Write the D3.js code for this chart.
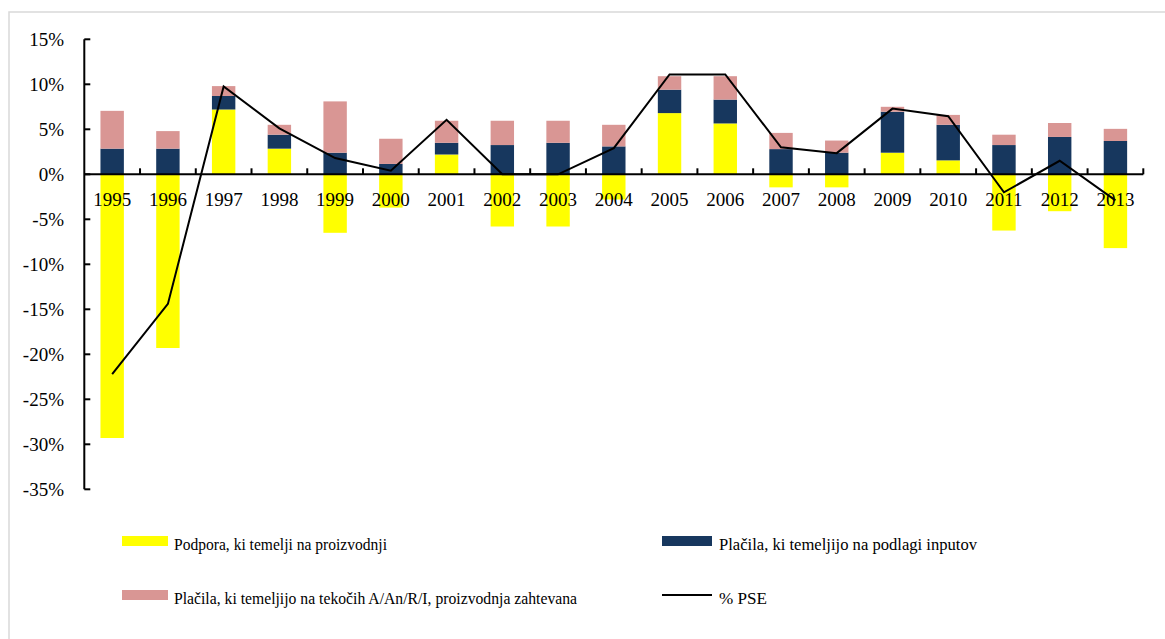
<!DOCTYPE html>
<html>
<head>
<meta charset="utf-8">
<script src="https://cdn.jsdelivr.net/npm/d3@7"></script>
<style>
  body { margin: 0; background: #fff; }
  svg { display: block; font-family: "Liberation Serif", "Times New Roman", serif; }
</style>
</head>
<body>
<svg id="chart" width="1165" height="639"></svg>
<script>
// chart data (in %)
var years = ["1995","1996","1997","1998","1999","2000","2001","2002","2003","2004",
             "2005","2006","2007","2008","2009","2010","2011","2012","2013"];
var production = [-29.3, -19.3, 7.2, 2.85, -6.5, -3.7, 2.2, -5.8, -5.8, -2.8,
                  6.8, 5.65, -1.45, -1.45, 2.4, 1.55, -6.25, -4.1, -8.2];
var inputs = [2.85, 2.85, 1.5, 1.55, 2.4, 1.15, 1.3, 3.25, 3.5, 3.1,
              2.6, 2.65, 2.8, 2.4, 4.55, 3.95, 3.25, 4.15, 3.7];
var current = [4.2, 1.95, 1.1, 1.1, 5.7, 2.8, 2.45, 2.7, 2.45, 2.4,
               1.5, 2.6, 1.8, 1.35, 0.55, 1.1, 1.15, 1.55, 1.35];
var pse = [-22.2, -14.4, 9.75, 5.1, 1.8, 0.4, 6.05, 0.0, 0.0, 2.9,
           11.1, 11.1, 3.0, 2.35, 7.3, 6.45, -2.0, 1.5, -2.9];
var yTicks = [15, 10, 5, 0, -5, -10, -15, -20, -25, -30, -35];

var seriesNames = {
  production: "Podpora, ki temelji na proizvodnji",
  inputs: "Plačila, ki temeljijo na podlagi inputov",
  current: "Plačila, ki temeljijo na tekočih A/An/R/I, proizvodnja zahtevana",
  pse: "% PSE"
};
var colors = { production: "#ffff00", inputs: "#17375e", current: "#d99694" };

var svg = d3.select("#chart");

// outer frame
svg.append("rect")
    .attr("x", 9).attr("y", 12)
    .attr("width", 1180).attr("height", 660)
    .attr("fill", "none")
    .attr("stroke", "#d9d9d9")
    .attr("stroke-width", 1.5);

var left = 84.3, right = 1143.3;

var x = d3.scaleBand()
    .domain(years)
    .range([left, right])
    .paddingInner(0.58)
    .paddingOuter(0.29);

var xb = d3.scaleBand().domain(years).range([left, right]);

var y = d3.scaleLinear()
    .domain([-35, 15])
    .range([489.3, 39.3]);

// stacked bars
var rows = years.map(function (yr, i) {
  return { year: yr, production: production[i], inputs: inputs[i], current: current[i] };
});
var stack = d3.stack()
    .keys(["production", "inputs", "current"])
    .offset(d3.stackOffsetDiverging);
var layers = stack(rows);

svg.append("g").selectAll("g")
  .data(layers)
  .join("g")
    .attr("fill", function (d) { return colors[d.key]; })
  .selectAll("rect")
  .data(function (d) { return d; })
  .join("rect")
    .attr("x", function (d) { return x(d.data.year); })
    .attr("width", x.bandwidth())
    .attr("y", function (d) { return y(Math.max(d[0], d[1])); })
    .attr("height", function (d) { return Math.abs(y(d[0]) - y(d[1])); });

// y axis
var yAxis = svg.append("g");
yAxis.append("line")
    .attr("x1", left).attr("x2", left)
    .attr("y1", y(15)).attr("y2", y(-35))
    .attr("stroke", "#000").attr("stroke-width", 2);
yAxis.selectAll("line.tick")
  .data(yTicks)
  .join("line")
    .attr("class", "tick")
    .attr("x1", left).attr("x2", left + 6)
    .attr("y1", function (d) { return y(d); })
    .attr("y2", function (d) { return y(d); })
    .attr("stroke", "#000").attr("stroke-width", 2);
yAxis.selectAll("text")
  .data(yTicks)
  .join("text")
    .attr("x", 64)
    .attr("y", function (d) { return y(d) + 6.5; })
    .attr("text-anchor", "end")
    .attr("font-size", 19)
    .text(function (d) { return d + "%"; });

// x axis at zero
var xAxis = svg.append("g");
xAxis.append("line")
    .attr("x1", left).attr("x2", right)
    .attr("y1", y(0)).attr("y2", y(0))
    .attr("stroke", "#000").attr("stroke-width", 2);
xAxis.selectAll("line.tick")
  .data(years.slice(1).concat(["end"]))
  .join("line")
    .attr("class", "tick")
    .attr("x1", function (d) { return d === "end" ? right : xb(d); })
    .attr("x2", function (d) { return d === "end" ? right : xb(d); })
    .attr("y1", y(0)).attr("y2", y(0) - 6)
    .attr("stroke", "#000").attr("stroke-width", 2);
xAxis.selectAll("text")
  .data(years)
  .join("text")
    .attr("x", function (d) { return xb(d) + xb.bandwidth() / 2; })
    .attr("y", y(0) + 32)
    .attr("text-anchor", "middle")
    .attr("font-size", 19)
    .text(function (d) { return d; });

// % PSE line
var line = d3.line()
    .x(function (d, i) { return xb(years[i]) + xb.bandwidth() / 2; })
    .y(function (d) { return y(d); });

svg.append("path")
    .attr("d", line(pse))
    .attr("fill", "none")
    .attr("stroke", "#000")
    .attr("stroke-width", 2);

// legend
var legend = [
  { key: "production", x: 122, y: 536, tx: 174, w: 213 },
  { key: "inputs", x: 662, y: 536, tx: 719, w: 258 },
  { key: "current", x: 122, y: 590, tx: 174, w: 403 },
  { key: "pse", x: 662, y: 590, tx: 719, w: 48 }
];
var lg = svg.append("g").selectAll("g").data(legend).join("g");
lg.each(function (d) {
  var g = d3.select(this);
  if (d.key === "pse") {
    g.append("line")
        .attr("x1", d.x).attr("x2", d.x + 50)
        .attr("y1", d.y + 5).attr("y2", d.y + 5)
        .attr("stroke", "#000").attr("stroke-width", 2);
  } else {
    g.append("rect")
        .attr("x", d.x).attr("y", d.y)
        .attr("width", d.key === "inputs" ? 50 : 46).attr("height", 10)
        .attr("fill", colors[d.key]);
  }
  g.append("text")
      .attr("x", d.tx).attr("y", d.y + 14)
      .attr("font-size", 17.5)
      .attr("textLength", d.w)
      .attr("lengthAdjust", "spacingAndGlyphs")
      .text(seriesNames[d.key]);
});
</script>
</body>
</html>
